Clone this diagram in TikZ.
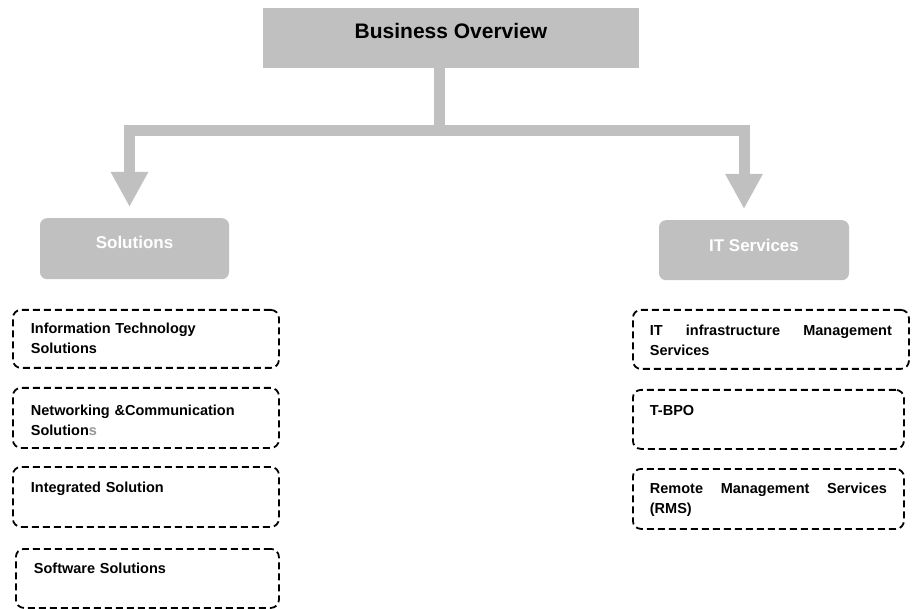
\documentclass[tikz,border=0pt]{standalone}
\usepackage{fontspec}
\setmainfont{Liberation Sans}
\usetikzlibrary{arrows.meta}
\definecolor{boxgray}{RGB}{192,192,192}
\definecolor{sgray}{RGB}{150,150,150}
\begin{document}
\begin{tikzpicture}[x=1pt,y=-1pt,
  grayblock/.style={fill=boxgray, draw=none, inner xsep=0pt, inner ysep=0pt, anchor=north},
  hdr/.style={grayblock, rounded corners=7pt, text=white, font=\fontsize{17}{20}\selectfont\bfseries},
  bar/.style={draw=boxgray, line width=11pt, line join=miter},
  bartip/.style={bar, -{Triangle[width=35pt,length=35pt]}, shorten >=11pt},
  dbox/.style={draw=black, line width=1.8pt, dash pattern=on 7pt off 4pt, rounded corners=8pt, anchor=north west, inner ysep=0pt, font=\fontsize{14.5}{20}\selectfont\bfseries},
  lbox/.style={dbox, align=left, text width=230pt, inner xsep=18pt},
  rbox/.style={dbox, align=justify, inner xsep=17pt}
]
\useasboundingbox (0,0) rectangle (913,609);

\node[grayblock, minimum width=376pt, text height=30pt, text depth=30pt, font=\fontsize{21}{24}\selectfont\bfseries] (bo) at (451,8) {Business Overview};

\node[hdr, minimum width=189pt, text height=30pt, text depth=31pt] (sol) at (134.5,218) {Solutions};
\node[hdr, minimum width=190pt, text height=31pt, text depth=29pt] (its) at (754,220) {IT Services};

\coordinate (j) at (439.5,131);
\draw[bar] ([xshift=-11.5pt]bo.south) -- (j);
\draw[bartip] (j) -| ([xshift=-5pt]sol.north);
\draw[bartip] (j) -| ([xshift=-10pt]its.north);

% left boxes
\node[lbox, text height=24pt, text depth=34pt] (l1) at (12,309) {Information Technology\\Solutions};
\node[lbox, text height=28pt, text depth=32pt] (l2) at (12,387) {Networking \&Communication\\Solution\textcolor{sgray}{s}};
\node[lbox, text height=26pt, text depth=34pt] (l3) at (12,466) {Integrated Solution};
\node[lbox, text width=227pt, text height=25pt, text depth=34pt] (l4) at (15,548) {Software Solutions};

% right boxes
\node[rbox, text width=242pt, text height=26pt, text depth=33pt] (r1) at (632,309) {IT infrastructure Management\linebreak Services};
\node[rbox, text width=237pt, text height=26pt, text depth=33pt] (r2) at (632,389) {T-BPO};
\node[rbox, text width=237pt, text height=25pt, text depth=35pt] (r3) at (632,468) {Remote Management Services\linebreak (RMS)};
\end{tikzpicture}
\end{document}
